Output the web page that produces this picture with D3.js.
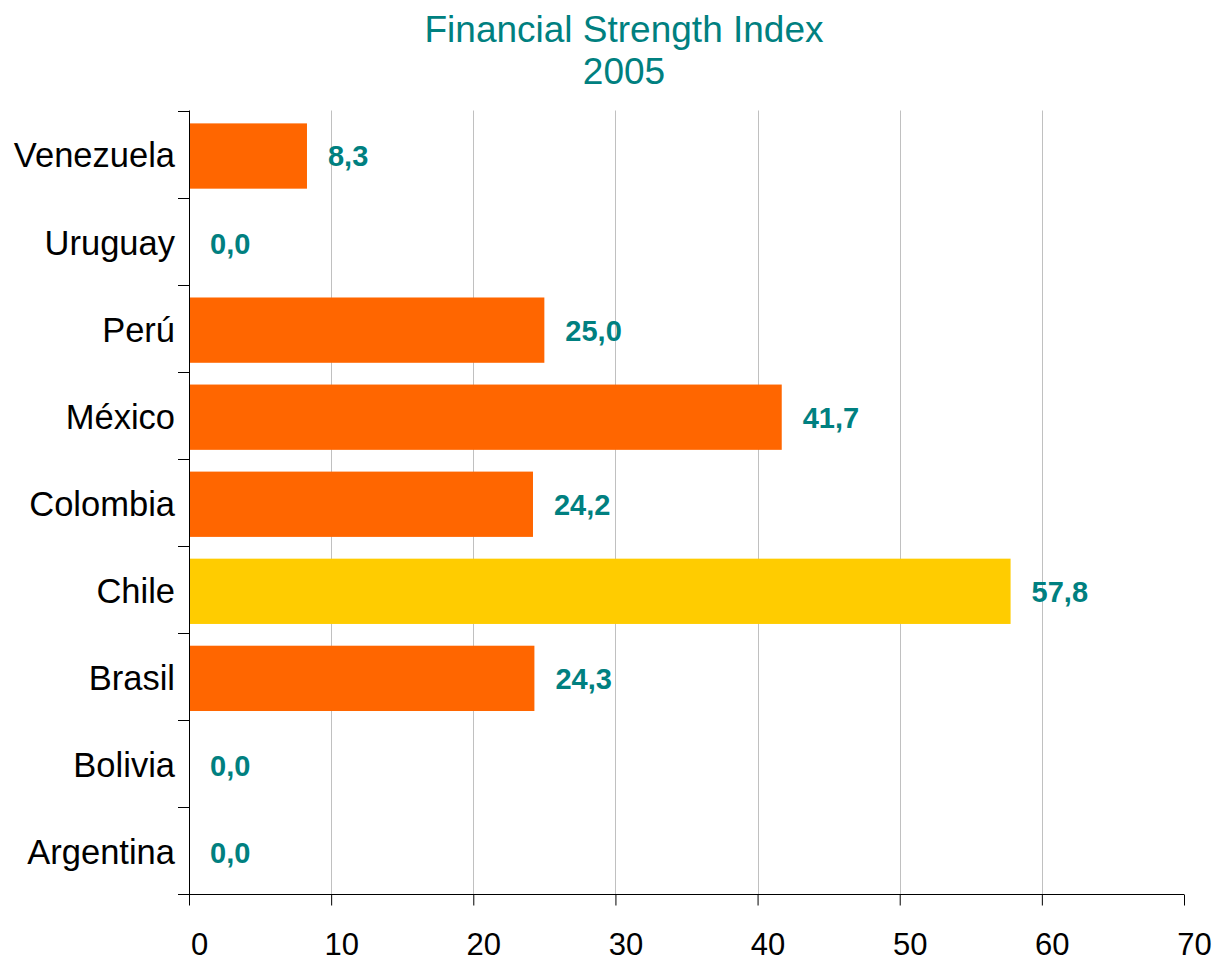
<!DOCTYPE html>
<html>
<head>
<meta charset="utf-8">
<script src="https://cdnjs.cloudflare.com/ajax/libs/d3/7.8.5/d3.min.js"></script>
<style>
  body { margin: 0; background: #fff; }
  svg { font-family: "Liberation Sans", Arial, sans-serif; }
</style>
</head>
<body>
<svg id="chart" width="1217" height="961"></svg>
<script>
// data, top to bottom as in the chart
var countries = ["Venezuela", "Uruguay", "Perú", "México", "Colombia", "Chile", "Brasil", "Bolivia", "Argentina"];
var values = [8.3, 0.0, 25.0, 41.7, 24.2, 57.8, 24.3, 0.0, 0.0];
var highlight = "Chile";
var xTicks = [0, 10, 20, 30, 40, 50, 60, 70];
var titleLines = ["Financial Strength Index", "2005"];

var svg = d3.select("#chart");
var plotLeft = 189, plotRight = 1184, plotTop = 110.5, plotBottom = 894;
var teal = "#008080";

var x = d3.scaleLinear().domain([0, 70]).range([plotLeft, plotRight]);
var y = d3.scaleBand().domain(countries).range([plotTop, plotBottom]).paddingInner(0.25).paddingOuter(0.125);

// title
svg.append("g").selectAll("text").data(titleLines).enter().append("text")
    .attr("x", 624)
    .attr("y", function(d, i) { return 42 + i * 42; })
    .attr("text-anchor", "middle")
    .attr("font-size", 37)
    .attr("fill", teal)
    .text(function(d) { return d; });

// vertical gridlines (not at 0 / 70)
svg.append("g").selectAll("line").data(xTicks.filter(function(t) { return t > 0 && t < 70; }))
    .enter().append("line")
    .attr("x1", function(d) { return Math.round(x(d)) + 0.5; })
    .attr("x2", function(d) { return Math.round(x(d)) + 0.5; })
    .attr("y1", plotTop).attr("y2", plotBottom)
    .attr("stroke", "#c0c0c0").attr("stroke-width", 1);

// bars sit a touch below band centre in the original
var barG = svg.append("g").attr("transform", "translate(0,2)");
barG.selectAll("rect").data(countries).enter().append("rect")
    .attr("x", x(0))
    .attr("y", function(d) { return y(d); })
    .attr("width", function(d, i) { return x(values[i]) - x(0); })
    .attr("height", y.bandwidth())
    .attr("fill", function(d) { return d == highlight ? "#FFCC00" : "#FF6600"; });

// value labels
barG.selectAll("text").data(countries).enter().append("text")
    .attr("x", function(d, i) { return x(values[i]) + 21; })
    .attr("y", function(d) { return y(d) + y.bandwidth() / 2; })
    .attr("dy", "0.36em")
    .attr("font-size", 29)
    .attr("font-weight", "bold")
    .attr("fill", teal)
    .text(function(d, i) { return values[i].toFixed(1).replace(".", ","); });

// y axis: line + ticks at band boundaries
var yAxis = svg.append("g");
yAxis.append("line")
    .attr("x1", plotLeft + 0.5).attr("x2", plotLeft + 0.5)
    .attr("y1", plotTop).attr("y2", plotBottom)
    .attr("stroke", "#000");
var bounds = countries.map(function(d) { return y(d) - y.step() * y.paddingInner() / 2; });
bounds.push(plotBottom);
yAxis.selectAll("line.tk").data(bounds).enter().append("line")
    .attr("class", "tk")
    .attr("x1", plotLeft - 11).attr("x2", plotLeft)
    .attr("y1", function(d) { return Math.round(d) + 0.5; })
    .attr("y2", function(d) { return Math.round(d) + 0.5; })
    .attr("stroke", "#000");
yAxis.selectAll("text").data(countries).enter().append("text")
    .attr("x", plotLeft - 14)
    .attr("y", function(d) { return y(d) + y.bandwidth() / 2 + 1; })
    .attr("dy", "0.36em")
    .attr("text-anchor", "end")
    .attr("font-size", 34.5)
    .attr("fill", "#000")
    .text(function(d) { return d; });

// x axis
var xAxis = d3.axisBottom(x).tickValues(xTicks).tickSize(11).tickPadding(27);
var gx = svg.append("g")
    .attr("transform", "translate(0," + (plotBottom + 0.5) + ")")
    .call(xAxis);
gx.select(".domain").attr("d", "M" + plotLeft + ",0H" + plotRight);
gx.selectAll("text")
    .attr("dx", 10)
    .attr("font-size", 31)
    .attr("font-family", "Liberation Sans, Arial, sans-serif")
    .attr("fill", "#000");
</script>
</body>
</html>
